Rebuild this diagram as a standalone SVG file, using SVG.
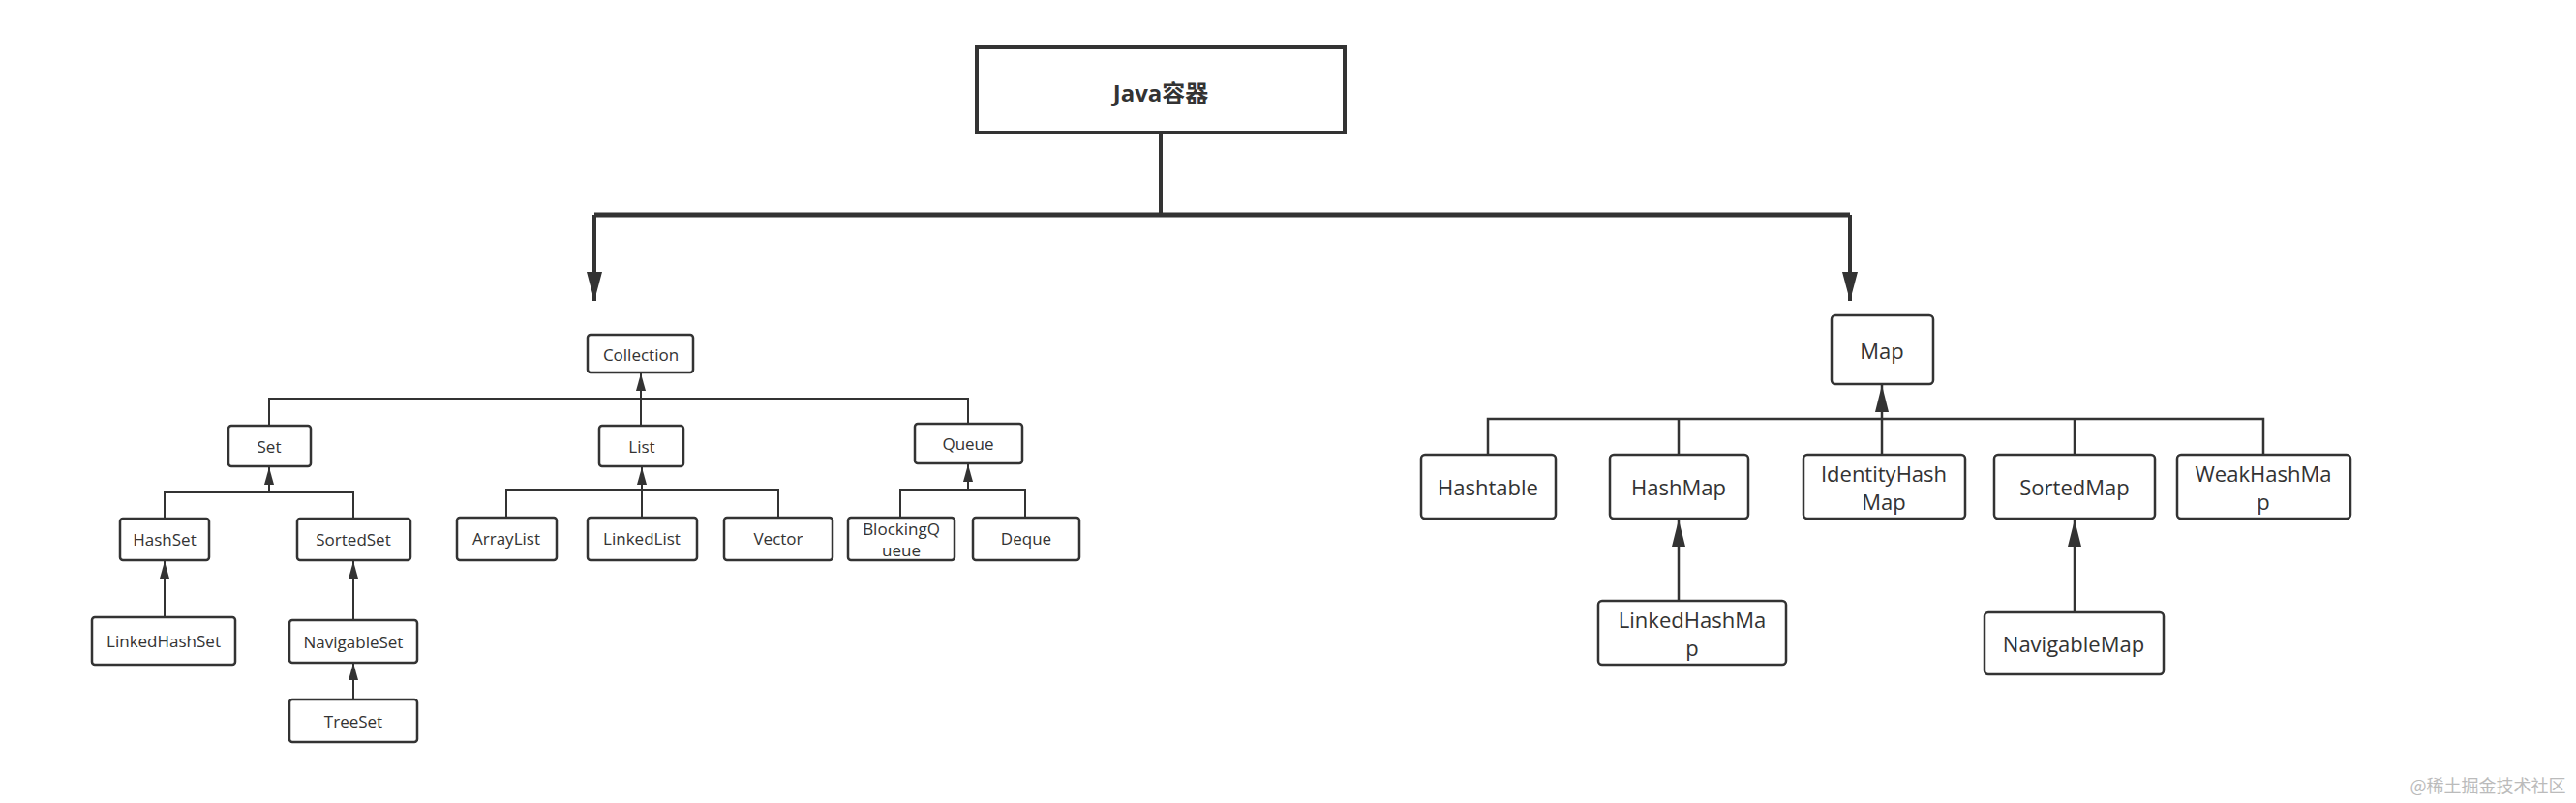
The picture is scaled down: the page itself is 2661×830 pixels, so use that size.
<svg xmlns="http://www.w3.org/2000/svg" width="2661" height="830" viewBox="0 0 2661 830">
<defs>
<marker id="a" viewBox="0 0 18 10" refX="18" refY="5" markerWidth="18" markerHeight="10" orient="auto" markerUnits="userSpaceOnUse" preserveAspectRatio="none"><path d="M0,0L18,5L0,10z" fill="#333"/></marker>
<marker id="m" viewBox="0 0 28 14" refX="28" refY="7" markerWidth="28" markerHeight="14" orient="auto" markerUnits="userSpaceOnUse" preserveAspectRatio="none"><path d="M0,0L28,7L0,14z" fill="#333"/></marker>
<marker id="b" viewBox="0 0 30 16" refX="30" refY="8" markerWidth="30" markerHeight="16" orient="auto" markerUnits="userSpaceOnUse" preserveAspectRatio="none"><path d="M0,0L30,8L0,16z" fill="#333"/></marker>
<style>
rect{fill:#fff;stroke:#333;stroke-width:2.5}
text{font-family:"Open Sans","Liberation Sans",sans-serif;fill:#333;text-anchor:middle;dominant-baseline:central}
.s{font-size:17px}.m{font-size:22px}
.c path{fill:none;stroke:#333;stroke-width:2}
.c .up{marker-end:url(#a)}
.c .um{marker-end:url(#m);stroke-width:2.5}
</style>
</defs>
<g id="java"><rect x="1009" y="49" width="380" height="88" style="stroke-width:4"/><text x="1199" y="95" style="font-size:24px;font-weight:bold;font-family:'Open Sans','Noto Sans CJK SC',sans-serif">Java容器</text></g>
<g class="c" id="connectors">
<path d="M1199,137V222" style="stroke-width:4"/>
<path d="M614,222H1911" style="stroke-width:5"/>
<path d="M614,222V311" style="stroke-width:4;marker-end:url(#b)"/>
<path d="M1911,222V311" style="stroke-width:4;marker-end:url(#b)"/>
<path d="M278,440V412H1000V438"/><path class="up" d="M662,440V386"/>
<path d="M170,536V509H365V536"/><path class="up" d="M278,509V483"/>
<path d="M523,535V506H804V535"/><path class="up" d="M663,535V483"/>
<path d="M930,535V506H1059V535"/><path class="up" d="M1000,506V480"/>
<path class="up" d="M170,638V580"/>
<path class="up" d="M365,641V580"/>
<path class="up" d="M365,723V685"/>
<path d="M1537,470V433H2338V470" style="stroke-width:2.5"/><path d="M1734,433V470M2143,433V470" style="stroke-width:2.5"/><path class="um" d="M1944,470V398"/>
<path class="um" d="M1734,621V537"/>
<path class="um" d="M2143,633V537"/>
</g>
<g id="collection"><rect x="607" y="346" width="109" height="39" rx="3"/><text class="s" x="662" y="366">Collection</text></g>
<g id="set"><rect x="236" y="440" width="85" height="42" rx="3"/><text class="s" x="278" y="461">Set</text></g>
<g id="list"><rect x="619" y="440" width="87" height="42" rx="3"/><text class="s" x="663" y="461">List</text></g>
<g id="queue"><rect x="945" y="438" width="111" height="41" rx="3"/><text class="s" x="1000" y="458">Queue</text></g>
<g id="hashset"><rect x="124" y="536" width="92" height="43" rx="3"/><text class="s" x="170" y="557">HashSet</text></g>
<g id="sortedset"><rect x="307" y="536" width="117" height="43" rx="3"/><text class="s" x="365" y="557">SortedSet</text></g>
<g id="arraylist"><rect x="472" y="535" width="103" height="44" rx="3"/><text class="s" x="523" y="556">ArrayList</text></g>
<g id="linkedlist"><rect x="607" y="535" width="113" height="44" rx="3"/><text class="s" x="663" y="556">LinkedList</text></g>
<g id="vector"><rect x="748" y="535" width="112" height="44" rx="3"/><text class="s" x="804" y="556">Vector</text></g>
<g id="blockingqueue"><rect x="876" y="535" width="110" height="44" rx="3"/><text class="s" x="931" y="546">BlockingQ</text><text class="s" x="931" y="568">ueue</text></g>
<g id="deque"><rect x="1005" y="535" width="110" height="44" rx="3"/><text class="s" x="1060" y="556">Deque</text></g>
<g id="linkedhashset"><rect x="95" y="638" width="148" height="49" rx="3"/><text class="s" x="169" y="662">LinkedHashSet</text></g>
<g id="navigableset"><rect x="299" y="641" width="132" height="44" rx="3"/><text class="s" x="365" y="663">NavigableSet</text></g>
<g id="treeset"><rect x="299" y="723" width="132" height="44" rx="3"/><text class="s" x="365" y="745">TreeSet</text></g>
<g id="map"><rect x="1892" y="326" width="105" height="71" rx="4"/><text class="m" x="1944" y="362">Map</text></g>
<g id="hashtable"><rect x="1468" y="470" width="139" height="66" rx="4"/><text class="m" x="1537" y="503">Hashtable</text></g>
<g id="hashmap"><rect x="1663" y="470" width="143" height="66" rx="4"/><text class="m" x="1734" y="503">HashMap</text></g>
<g id="identityhashmap"><rect x="1863" y="470" width="167" height="66" rx="4"/><text class="m" x="1946" y="489">IdentityHash</text><text class="m" x="1946" y="518">Map</text></g>
<g id="sortedmap"><rect x="2060" y="470" width="166" height="66" rx="4"/><text class="m" x="2143" y="503">SortedMap</text></g>
<g id="weakhashmap"><rect x="2249" y="470" width="179" height="66" rx="4"/><text class="m" x="2338" y="489">WeakHashMa</text><text class="m" x="2338" y="518">p</text></g>
<g id="linkedhashmap"><rect x="1651" y="621" width="194" height="66" rx="4"/><text class="m" x="1748" y="640">LinkedHashMa</text><text class="m" x="1748" y="669">p</text></g>
<g id="navigablemap"><rect x="2050" y="633" width="185" height="64" rx="4"/><text class="m" x="2142" y="665">NavigableMap</text></g>
<text x="2570" y="811" style="font-size:18px;fill:#bbb;font-family:'Noto Sans CJK SC',sans-serif">@稀土掘金技术社区</text>
</svg>
